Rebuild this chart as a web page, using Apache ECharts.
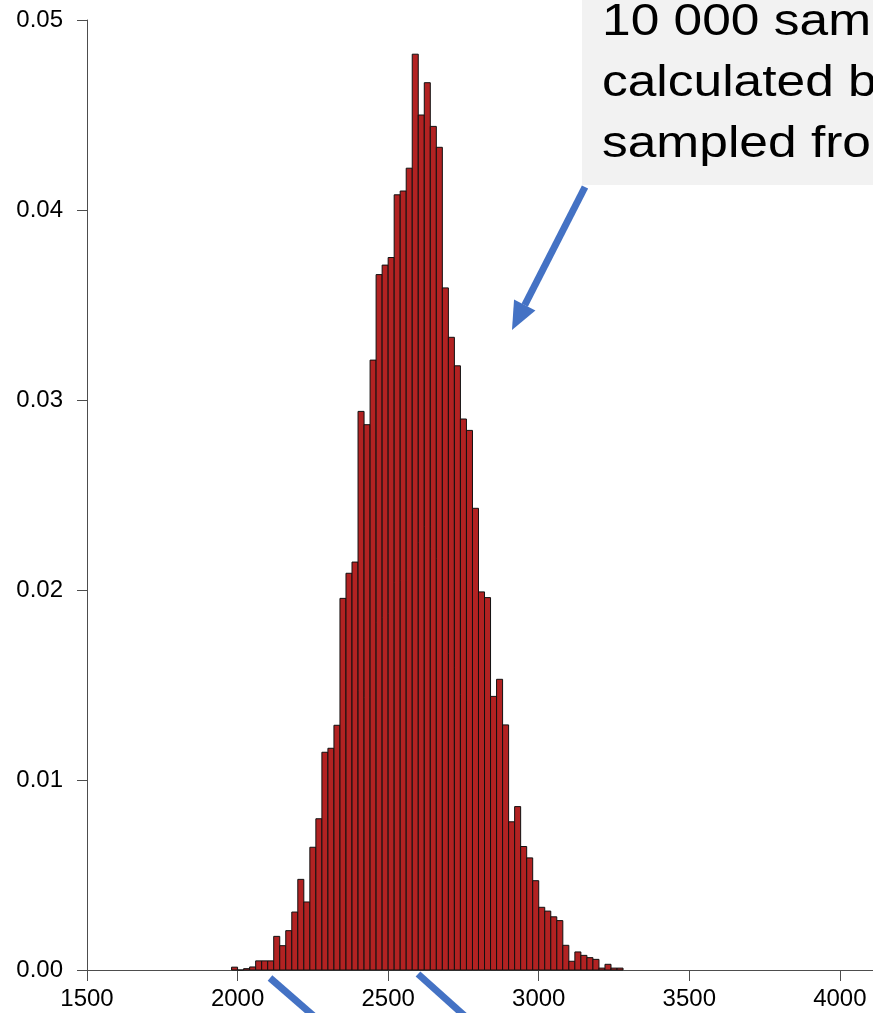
<!DOCTYPE html>
<html>
<head>
<meta charset="utf-8">
<title>Histogram of 10 000 samples</title>
<script src="https://cdn.jsdelivr.net/npm/echarts@6/dist/echarts.min.js"></script>
<style>
  html, body { margin: 0; padding: 0; background: #ffffff; }
  #chart { width: 873px; height: 1013px; }
</style>
</head>
<body>
<div id="chart"></div>
<script>
// Histogram bins: left edge of each bin (width 20) and the density in that bin
const binWidth = 20;
const binLefts = [
  1980, 2000, 2020, 2040, 2060, 2080, 2100, 2120, 2140, 2160,
  2180, 2200, 2220, 2240, 2260, 2280, 2300, 2320, 2340, 2360,
  2380, 2400, 2420, 2440, 2460, 2480, 2500, 2520, 2540, 2560,
  2580, 2600, 2620, 2640, 2660, 2680, 2700, 2720, 2740, 2760,
  2780, 2800, 2820, 2840, 2860, 2880, 2900, 2920, 2940, 2960,
  2980, 3000, 3020, 3040, 3060, 3080, 3100, 3120, 3140, 3160,
  3180, 3200, 3220, 3240, 3260
];
const densities = [
  0.00015, 0.00000, 0.00007, 0.00016, 0.00048, 0.00048, 0.00048, 0.00177, 0.00128, 0.00207,
  0.00305, 0.00477, 0.00358, 0.00646, 0.00796, 0.01146, 0.01167, 0.01288, 0.01956, 0.02088,
  0.02147, 0.02940, 0.02870, 0.03210, 0.03660, 0.03710, 0.03750, 0.04080, 0.04100, 0.04220,
  0.04820, 0.04500, 0.04670, 0.04440, 0.04330, 0.03590, 0.03330, 0.03180, 0.02900, 0.02840,
  0.02430, 0.01990, 0.01960, 0.01440, 0.01530, 0.01290, 0.00780, 0.00860, 0.00650, 0.00590,
  0.00470, 0.00330, 0.00310, 0.00280, 0.00260, 0.00130, 0.00046, 0.00095, 0.00077, 0.00065,
  0.00056, 0.00010, 0.00030, 0.00010, 0.00010
];

// Axis ticks
const xTicks = [1500, 2000, 2500, 3000, 3500, 4000];
const yTicks = [0, 0.01, 0.02, 0.03, 0.04, 0.05];

// Annotation text lines
const noteLines = ['10 000 samples', 'calculated by', 'sampled from'];

const FONT = '"Liberation Sans", Arial, Helvetica, sans-serif';
const AXIS_COLOR = '#4d4d4d';
const ARROW_BLUE = '#4472C4';

const histData = binLefts.map((left, i) => [left, left + binWidth, densities[i]]);

const chart = echarts.init(document.getElementById('chart'), null, { renderer: 'canvas' });

// Arrow pointing at the histogram from the note box
const arrowFrom = [585, 187];
const arrowTip = [512, 330];
function arrowHead(from, tip, len, halfW) {
  const dx = tip[0] - from[0], dy = tip[1] - from[1];
  const d = Math.hypot(dx, dy);
  const ux = dx / d, uy = dy / d;
  const bx = tip[0] - ux * len, by = tip[1] - uy * len;
  const nx = -uy, ny = ux;
  return {
    base: [bx, by],
    points: [tip, [bx + nx * halfW, by + ny * halfW], [bx - nx * halfW, by - ny * halfW]]
  };
}
const head = arrowHead(arrowFrom, arrowTip, 28, 12);

const option = {
  animation: false,
  backgroundColor: '#ffffff',
  grid: { left: 87, right: 0, top: 20, bottom: 43, containLabel: false },
  xAxis: {
    type: 'value',
    min: 1500,
    max: 4110,
    interval: 500,
    axisLine: { show: true, lineStyle: { color: AXIS_COLOR, width: 1 } },
    axisTick: { show: true, length: 11, customValues: xTicks, lineStyle: { color: AXIS_COLOR, width: 1 } },
    axisLabel: {
      customValues: xTicks,
      fontSize: 24,
      fontFamily: FONT,
      color: '#000000',
      margin: 17,
      formatter: (v) => String(v)
    },
    splitLine: { show: false }
  },
  yAxis: {
    type: 'value',
    min: 0,
    max: 0.05,
    interval: 0.01,
    axisLine: { show: true, lineStyle: { color: AXIS_COLOR, width: 1 } },
    axisTick: { show: true, length: 10, customValues: yTicks, lineStyle: { color: AXIS_COLOR, width: 1 } },
    axisLabel: {
      customValues: yTicks,
      fontSize: 24,
      fontFamily: FONT,
      color: '#000000',
      margin: 24,
      formatter: (v) => Number(v).toFixed(2)
    },
    splitLine: { show: false }
  },
  series: [{
    type: 'custom',
    name: 'density',
    data: histData,
    encode: { x: [0, 1], y: 2 },
    renderItem: function (params, api) {
      const topLeft = api.coord([api.value(0), api.value(2)]);
      const bottomRight = api.coord([api.value(1), 0]);
      return {
        type: 'rect',
        shape: {
          x: topLeft[0],
          y: topLeft[1],
          width: bottomRight[0] - topLeft[0],
          height: bottomRight[1] - topLeft[1]
        },
        style: { fill: '#B22222', stroke: '#111111', lineWidth: 1 }
      };
    }
  }],
  graphic: [
    // note box in the top right corner
    {
      type: 'rect', z: 100,
      shape: { x: 582, y: 0, width: 300, height: 185 },
      style: { fill: '#F2F2F2' }
    },
    {
      type: 'text', z: 101,
      x: 602, y: -8,
      scaleX: 1.17, scaleY: 1,
      originX: 0, originY: 0,
      style: {
        text: noteLines.join('\n'),
        font: '44px ' + FONT,
        lineHeight: 61,
        fill: '#000000',
        verticalAlign: 'top'
      }
    },
    // arrow shaft and head
    {
      type: 'line', z: 100,
      shape: { x1: arrowFrom[0], y1: arrowFrom[1], x2: head.base[0], y2: head.base[1] },
      style: { stroke: ARROW_BLUE, lineWidth: 7, lineCap: 'butt' }
    },
    {
      type: 'polygon', z: 100,
      shape: { points: head.points },
      style: { fill: ARROW_BLUE }
    },
    // connector lines leaving the bottom edge
    {
      type: 'line', z: 100,
      shape: { x1: 270, y1: 978, x2: 316, y2: 1018 },
      style: { stroke: ARROW_BLUE, lineWidth: 7, lineCap: 'butt' }
    },
    {
      type: 'line', z: 100,
      shape: { x1: 418, y1: 974, x2: 467, y2: 1018 },
      style: { stroke: ARROW_BLUE, lineWidth: 7, lineCap: 'butt' }
    }
  ]
};

chart.setOption(option);
</script>
</body>
</html>
